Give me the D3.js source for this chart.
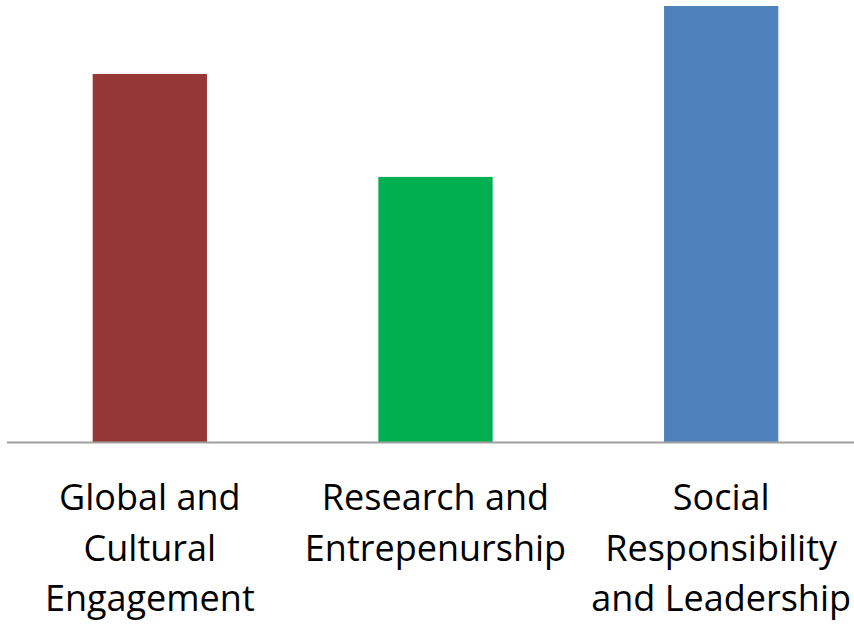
<!DOCTYPE html>
<html>
<head>
<meta charset="utf-8">
<script src="https://cdn.jsdelivr.net/npm/d3@7"></script>
<style>
  body { margin: 0; background: #fff; }
  text { font-family: "Open Sans", sans-serif; fill: #000; }
</style>
</head>
<body>
<div id="chart"></div>
<script>
// data
const categories = ["Global and Cultural Engagement", "Research and Entrepenurship", "Social Responsibility and Leadership"];
const values = [84.4, 60.8, 100];
const barColors = ["#953735", "#00B050", "#4F81BD"];
// label lines as they wrap in the picture
const labelLines = [
  ["Global and", "Cultural", "Engagement"],
  ["Research and", "Entrepenurship"],
  ["Social", "Responsibility", "and Leadership"]
];

const width = 854, height = 626;
const baseY = 442, topY = 6;

const svg = d3.select("#chart").append("svg")
    .attr("width", width)
    .attr("height", height);

const x = d3.scaleBand()
    .domain(categories)
    .range([7, 864])
    .paddingInner(0.6)
    .paddingOuter(0.3);

const y = d3.scaleLinear()
    .domain([0, 100])
    .range([baseY, topY]);

svg.selectAll("rect.bar")
    .data(values)
    .enter()
    .append("rect")
    .attr("class", "bar")
    .attr("x", (d, i) => x(categories[i]))
    .attr("y", d => y(d))
    .attr("width", x.bandwidth())
    .attr("height", d => y(0) - y(d))
    .attr("fill", (d, i) => barColors[i]);

// baseline
svg.append("line")
    .attr("x1", 7)
    .attr("x2", width)
    .attr("y1", baseY + 0.5)
    .attr("y2", baseY + 0.5)
    .attr("stroke", "#a0a0a0")
    .attr("stroke-width", 2);

// category labels
const lineGap = 50.5;
const labels = svg.selectAll("text.cat")
    .data(categories)
    .enter()
    .append("text")
    .attr("class", "cat")
    .attr("text-anchor", "middle")
    .style("font-size", "36px");

labels.each(function(d, i) {
    const t = d3.select(this);
    const cx = x(d) + x.bandwidth() / 2;
    labelLines[i].forEach((ln, j) => {
        t.append("tspan")
            .attr("x", cx)
            .attr("y", 510 + j * lineGap)
            .text(ln);
    });
});
</script>
</body>
</html>
